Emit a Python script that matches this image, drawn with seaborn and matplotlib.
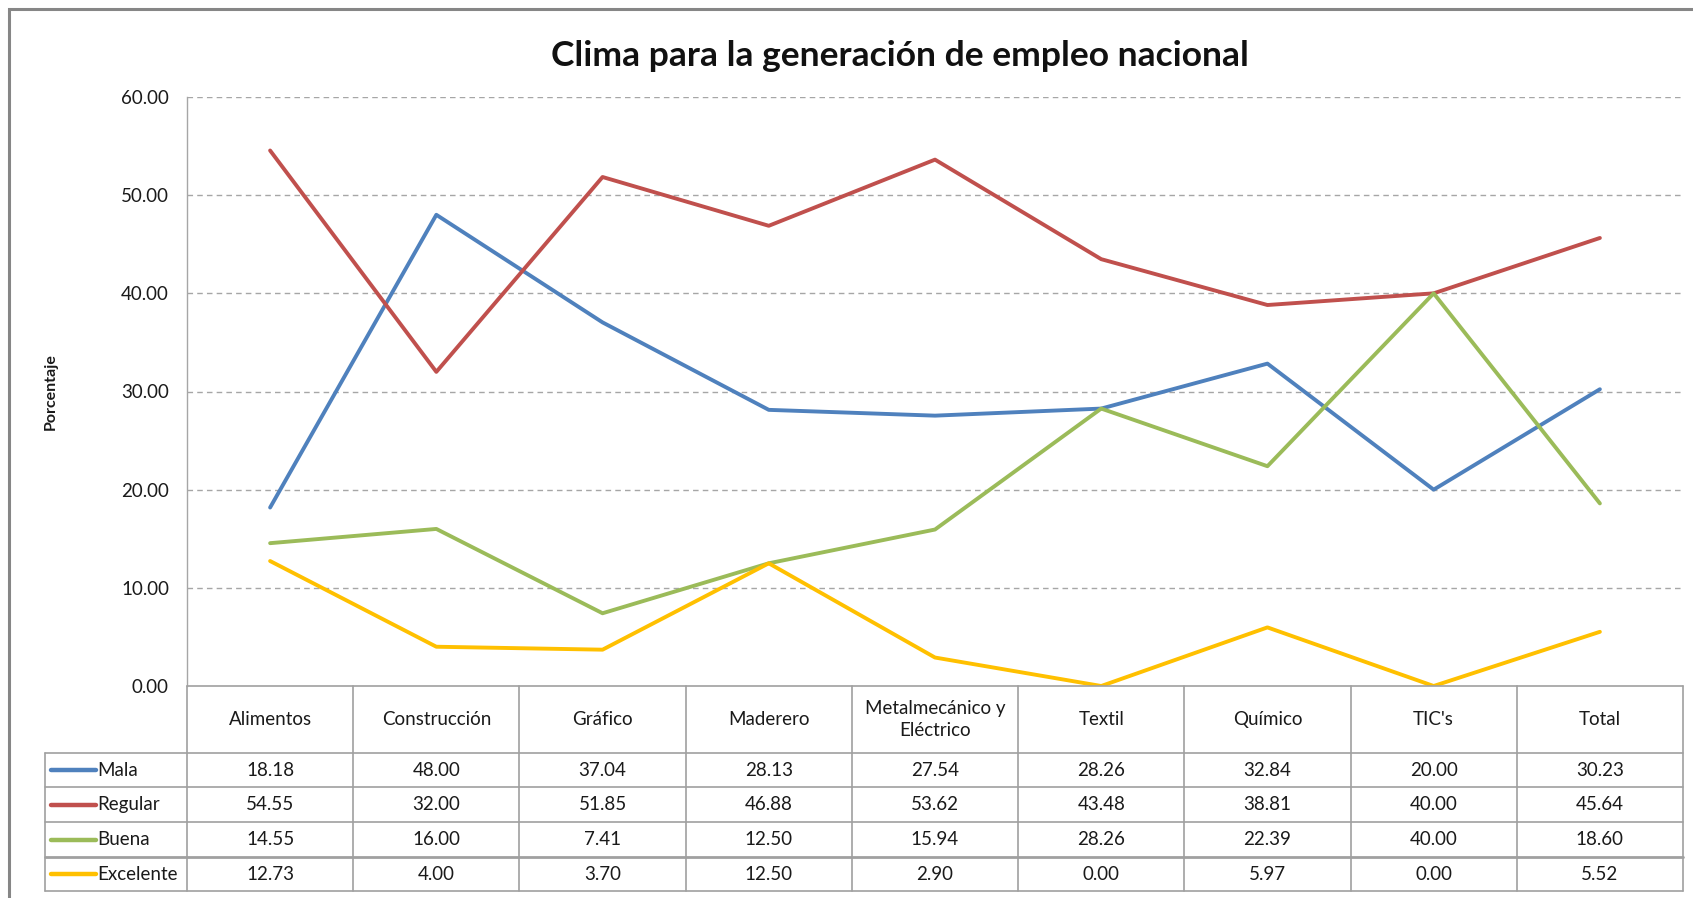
import matplotlib
matplotlib.use("Agg")
import matplotlib.pyplot as plt
import matplotlib.transforms as mtransforms
from matplotlib.patches import Rectangle
import seaborn as sns
import pandas as pd

categories = ["Alimentos", "Construcción", "Gráfico", "Maderero",
              "Metalmecánico y\nEléctrico", "Textil", "Químico", "TIC's", "Total"]
mala = [18.18, 48.00, 37.04, 28.13, 27.54, 28.26, 32.84, 20.00, 30.23]
regular = [54.55, 32.00, 51.85, 46.88, 53.62, 43.48, 38.81, 40.00, 45.64]
buena = [14.55, 16.00, 7.41, 12.50, 15.94, 28.26, 22.39, 40.00, 18.60]
excelente = [12.73, 4.00, 3.70, 12.50, 2.90, 0.00, 5.97, 0.00, 5.52]
series_names = ["Mala", "Regular", "Buena", "Excelente"]
yticks = [0, 10, 20, 30, 40, 50, 60]

colors = {"Mala": "#4F81BD", "Regular": "#C0504D",
          "Buena": "#9BBB59", "Excelente": "#FFC000"}

series = {"Mala": mala, "Regular": regular, "Buena": buena, "Excelente": excelente}
rows = []
for name in series_names:
    for i, v in enumerate(series[name]):
        rows.append({"x": i, "valor": v, "serie": name})
df = pd.DataFrame(rows)

sns.set_theme(style="white")
plt.rcParams["font.family"] = ["Lato", "DejaVu Sans"]

W, H = 1693, 898
fig = plt.figure(figsize=(W / 100, H / 100), dpi=100)
fig.patch.set_facecolor("white")

def fx(px):
    return px / W

def fy(py):
    return 1 - py / H

left, right, top, bottom = 187, 1683, 97, 686
ax = fig.add_axes([fx(left), fy(bottom), fx(right) - fx(left), fy(top) - fy(bottom)])

grid_col = "#A6A6A6"
for t in yticks[1:]:
    ax.axhline(t, color=grid_col, lw=1.0, ls=(0, (4, 3)), zorder=0)

sns.lineplot(data=df, x="x", y="valor", hue="serie", hue_order=series_names,
             palette=colors, linewidth=2.8, ax=ax, legend=False, zorder=3,
             solid_capstyle="round")

ax.set_xlim(-0.5, len(categories) - 0.5)
ax.set_ylim(0, 60)
ax.set_yticks(yticks)
ax.set_yticklabels([f"{t:.2f}" for t in yticks], fontsize=13.5, color="#1a1a1a")
ax.tick_params(axis="y", length=0, pad=13)
ax.set_xticks([])
ax.set_xlabel("")
ax.set_ylabel("")
for s in ["top", "right", "bottom"]:
    ax.spines[s].set_visible(False)
ax.spines["left"].set_color(grid_col)
ax.spines["left"].set_linewidth(1.0)

fig.text(fx(51), fy(392), "Porcentaje", rotation=90, fontsize=11.5,
         fontweight="bold", ha="center", va="center", color="#1a1a1a")
fig.text(fx(900), fy(56), "Clima para la generación de empleo nacional",
         fontsize=25.5, fontweight="bold", ha="center", va="center", color="#111111")

# Data table below the plot
line_col = "#A0A0A0"
trans = mtransforms.blended_transform_factory(ax.transData, fig.transFigure)
row_edges = [686, 753, 787, 822, 857, 891]
n = len(categories)
leg_left = 45

# horizontal rules
ax_line_kw = dict(color=line_col, lw=1.2, clip_on=False)
fig.add_artist(plt.Line2D([-0.5, n - 0.5], [fy(row_edges[0])] * 2, transform=trans, **ax_line_kw))
for j, yb in enumerate(row_edges[1:]):
    fig.add_artist(plt.Line2D([fx(leg_left), fx(right)], [fy(yb)] * 2,
                              transform=fig.transFigure,
                              color=line_col, lw=2.0 if j == 3 else 1.2))
# vertical rules
for k in range(n + 1):
    fig.add_artist(plt.Line2D([k - 0.5, k - 0.5], [fy(row_edges[0]), fy(row_edges[-1])],
                              transform=trans, **ax_line_kw))
fig.add_artist(plt.Line2D([fx(leg_left)] * 2, [fy(row_edges[1]), fy(row_edges[-1])],
                          transform=fig.transFigure, color=line_col, lw=1.2))

# header labels
for i, c in enumerate(categories):
    ymid = (row_edges[0] + row_edges[1]) / 2
    fig.text(i, fy(ymid), c, transform=trans, ha="center", va="center",
             fontsize=13.5, color="#1a1a1a", linespacing=1.3)

# value rows with legend keys
for r, name in enumerate(series_names):
    ymid = (row_edges[r + 1] + row_edges[r + 2]) / 2
    fig.add_artist(plt.Line2D([fx(51), fx(96)], [fy(ymid)] * 2,
                              transform=fig.transFigure, color=colors[name], lw=3.2))
    fig.text(fx(97), fy(ymid), name, ha="left", va="center", fontsize=13.5, color="#1a1a1a")
    for i, v in enumerate(series[name]):
        fig.text(i, fy(ymid), f"{v:.2f}", transform=trans, ha="center", va="center",
                 fontsize=13.5, color="#1a1a1a")

# chart frame
fig.add_artist(Rectangle((fx(9), fy(H + 20)), fx(W + 20), fy(9) - fy(H + 20),
                         transform=fig.transFigure, fill=False,
                         edgecolor="#868686", lw=2.2))

fig.savefig("out.png", dpi=100)
